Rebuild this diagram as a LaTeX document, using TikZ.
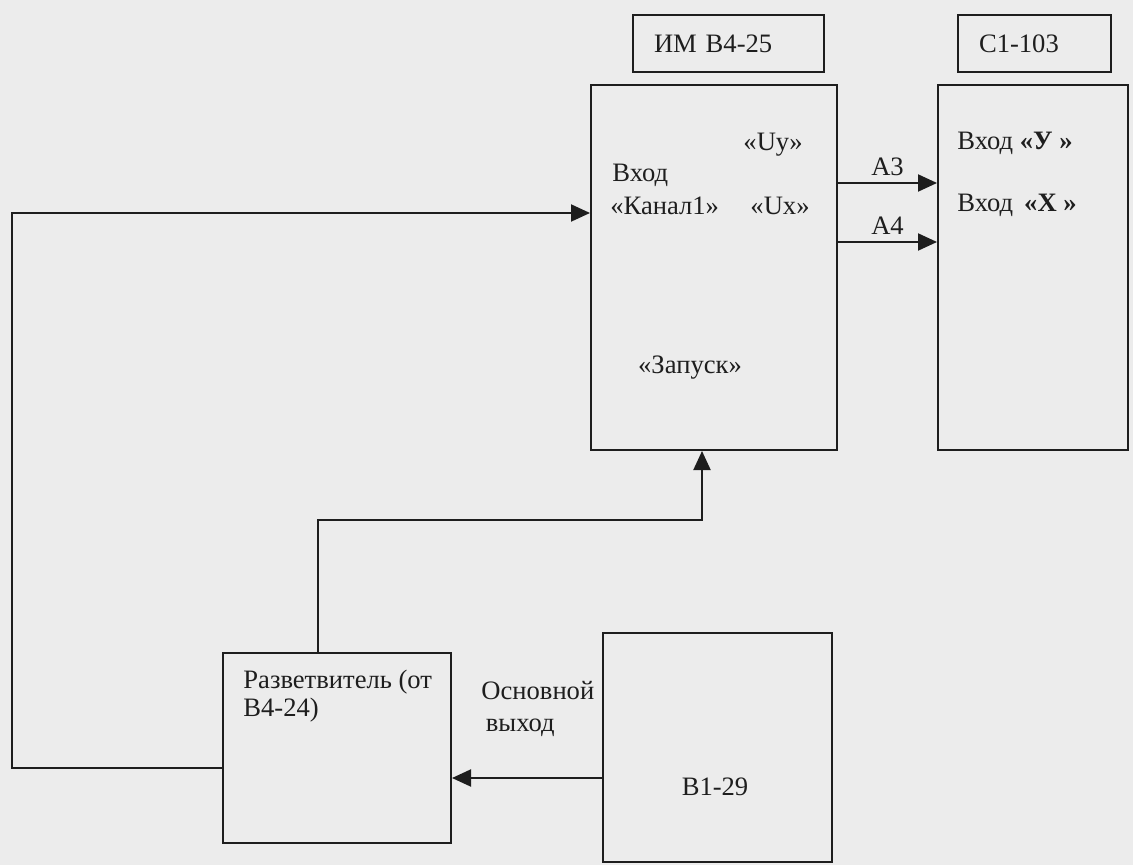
\documentclass[tikz,border=0pt]{standalone}
\usepackage{fontspec}
\setmainfont{Liberation Serif}
\usepackage{tikz}
\usetikzlibrary{arrows.meta, positioning, calc}
\definecolor{scanpaper}{HTML}{ECECEC}
\definecolor{inkline}{HTML}{1E1E1E}

\begin{document}
\begin{tikzpicture}[
  x=0.5pt, y=-0.5pt,
  every node/.style={font=\fontsize{13.3}{14}\selectfont, text=inkline},
  unit/.style={draw=inkline, line width=1pt, anchor=north west, inner sep=0pt},
  lbl/.style={draw=inkline, line width=1pt, anchor=north west,
    minimum height=28.5pt, inner xsep=10.5pt, align=left},
  txt/.style={inner sep=0pt},
  wire/.style={draw=inkline, line width=1pt},
  arr/.style={wire, -{Triangle[length=9.5pt, width=8.5pt]}},
]
  \fill[scanpaper] (0,0) rectangle (1133,865);
  \useasboundingbox (0,0) rectangle (1133,865);

  %% Device name plates
  \node[lbl, text width=74.5pt] (imname) at (632,14) {ИМ В4-25};
  \node[lbl, text width=55.5pt] (oscname) at (957,14) {С1-103};

  %% Instruments
  \node[unit, minimum width=123pt, minimum height=182.5pt] (im) at (590,84) {};
  \node[unit, minimum width=95pt, minimum height=182.5pt] (osc) at (937,84) {};
  \node[unit, minimum width=114pt, minimum height=95pt] (split) at (222,652) {};
  \node[unit, minimum width=114.5pt, minimum height=114.5pt] (gen) at (602,632) {};

  %% Texts inside the boxes
  \node[txt] (uy) at (773,145) {«Uy»};
  \node[txt, anchor=west] (inlbl) at (612,175) {Вход};
  \node[txt, anchor=west] (ch1) at (610,206) {«Канал1»};
  \node[txt] (ux) at (780,206) {«Ux»};
  \node[txt] (start) at (690,368) {«Запуск»};
  \node[txt, anchor=west] (iny) at (957,143) {Вход \textbf{«У »}};
  \node[txt, anchor=west] (inx) at (957,205) {Вход \,\textbf{«X »}};
  \node[txt, anchor=west, align=left] (splittxt) at (243,696)
    {Разветвитель (от\\В4-24)};
  \node[txt] (gentxt) at (715,787) {В1-29};
  \node[txt, anchor=west, align=left] (mainout) at (481,709)
    {Основной\\[2pt]\,выход};

  %% Helper points for the wires
  \coordinate (ya) at (0,183);
  \coordinate (yb) at (0,242);
  \coordinate (loopbot) at (12,768);
  \coordinate (looptop) at (12,213);
  \coordinate (trigl) at (318,520);
  \coordinate (trigr) at (702,520);
  \coordinate (genout) at (0,778);

  %% Outputs to the oscilloscope
  \draw[arr] (im.east |- ya) -- node[above=3pt, txt] {A3} (osc.west |- ya);
  \draw[arr] (im.east |- yb) -- node[above=3pt, txt] {A4} (osc.west |- yb);

  %% Channel 1 loop and trigger
  \draw[arr] (split.west |- loopbot) -- (loopbot) -- (looptop) -- (im.west |- looptop);
  \draw[arr] (split.north -| trigl) -- (trigl) -- (trigr) -- (im.south -| trigr);

  %% Generator main output
  \draw[arr] (gen.west |- genout) -- (split.east |- genout);
\end{tikzpicture}
\end{document}
